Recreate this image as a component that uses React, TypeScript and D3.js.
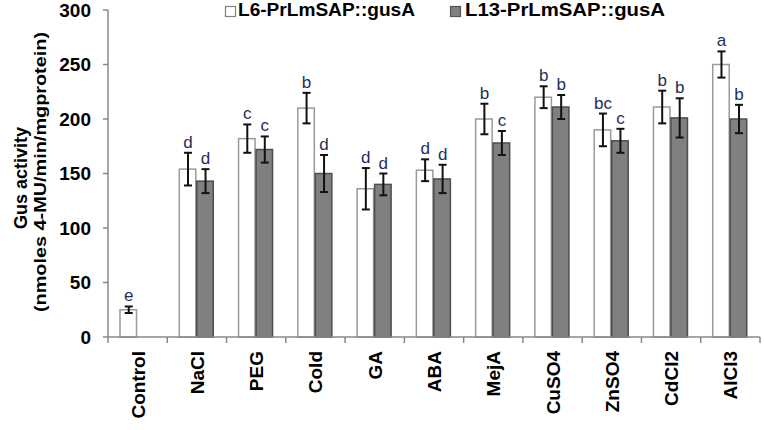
import React from 'react';
import { scaleBand, scaleLinear } from 'd3';

const categories = ['Control', 'NaCl', 'PEG', 'Cold', 'GA', 'ABA', 'MejA', 'CuSO4', 'ZnSO4', 'CdCl2', 'AlCl3'];
const seriesNames = ['L6-PrLmSAP::gusA', 'L13-PrLmSAP::gusA'];
const l6Values = [25, 154, 182, 210, 136, 153, 200, 220, 190, 211, 250];
const l6Errors = [3, 15, 13, 14, 19, 10, 14, 10, 15, 15, 12];
const l6Letters = ['e', 'd', 'c', 'b', 'd', 'd', 'b', 'b', 'bc', 'b', 'a'];
const l13Values = [null, 143, 172, 150, 140, 145, 178, 211, 180, 201, 200];
const l13Errors = [null, 11, 12, 17, 10, 13, 11, 11, 11, 18, 13];
const l13Letters = ['', 'd', 'c', 'd', 'd', 'd', 'c', 'b', 'c', 'b', 'b'];
const yTicks = [0, 50, 100, 150, 200, 250, 300];

const fillColors = ['#ffffff', '#808080'];
const strokeColors = ['#9a9a9a', '#4d4d4d'];
const font = 'Liberation Sans, Arial, sans-serif';

function App() {
  const left = 108;
  const right = 760;
  const top = 10;
  const bottom = 337;

  const x = scaleBand().domain(categories).range([left, right]).padding(0);
  const inner = scaleBand().domain(seriesNames).range([12, 47]).padding(0);
  const y = scaleLinear().domain([0, 300]).range([bottom, top]);

  const series = [
    { name: seriesNames[0], values: l6Values, errors: l6Errors, letters: l6Letters },
    { name: seriesNames[1], values: l13Values, errors: l13Errors, letters: l13Letters },
  ];

  return (
    <svg
      width={764}
      height={430}
      style={{ position: 'absolute', left: 0, top: 0, background: '#fff' }}
      fontFamily={font}
    >
      {/* legend */}
      <g fontWeight='bold' fontSize={18}>
        <rect x={225.5} y={6.5} width={10} height={10} fill='#fff' stroke='#808080' strokeWidth={1.2} />
        <text x={238} y={16} textLength={177} lengthAdjust='spacingAndGlyphs'>{seriesNames[0]}</text>
        <rect x={450.5} y={6.5} width={10} height={10} fill='#808080' stroke='#555' strokeWidth={1.2} />
        <text x={465} y={16} textLength={200} lengthAdjust='spacingAndGlyphs'>{seriesNames[1]}</text>
      </g>

      {/* y axis */}
      <line x1={left} x2={left} y1={top} y2={bottom} stroke='#888' strokeWidth={1.5} />
      {yTicks.map((t) => (
        <g key={t}>
          <line x1={left - 5} x2={left} y1={y(t)} y2={y(t)} stroke='#888' strokeWidth={1.5} />
          <text x={91} y={y(t)} dy='0.35em' textAnchor='end' fontWeight='bold' fontSize={19}>{t}</text>
        </g>
      ))}
      <g fontWeight='bold'>
        <text transform={`translate(27,178) rotate(-90)`} textAnchor='middle' fontSize={18}>Gus activity</text>
        <text
          transform={`translate(46,172) rotate(-90)`}
          textAnchor='middle'
          fontSize={17}
          textLength={280}
          lengthAdjust='spacingAndGlyphs'
        >
          (nmoles 4-MU/min/mgprotein)
        </text>
      </g>

      {/* bars */}
      {series.map((s, si) => (
        <g key={s.name}>
          {categories.map((c, i) => {
            const v = s.values[i];
            if (v == null) return null;
            const e = s.errors[i] || 0;
            const bx = (x(c) || 0) + (inner(s.name) || 0);
            const bw = inner.bandwidth();
            const cx = bx + bw / 2;
            return (
              <g key={c}>
                <rect
                  x={bx}
                  y={y(v)}
                  width={bw - 1}
                  height={bottom - y(v)}
                  fill={fillColors[si]}
                  stroke={strokeColors[si]}
                  strokeWidth={1.5}
                />
                <line x1={cx} x2={cx} y1={y(v + e)} y2={y(v - e)} stroke='#111' strokeWidth={2} />
                <line x1={cx - 4} x2={cx + 4} y1={y(v + e)} y2={y(v + e)} stroke='#111' strokeWidth={2} />
                <line x1={cx - 4} x2={cx + 4} y1={y(v - e)} y2={y(v - e)} stroke='#111' strokeWidth={2} />
                <text x={cx} y={y(v + e) - 5} textAnchor='middle' fontSize={17} fill='#1f2d5c'>
                  {s.letters[i]}
                </text>
              </g>
            );
          })}
        </g>
      ))}

      {/* x axis */}
      <line x1={left} x2={right} y1={bottom} y2={bottom} stroke='#888' strokeWidth={1.5} />
      {categories.map((c) => (
        <line key={c} x1={x(c)} x2={x(c)} y1={bottom} y2={bottom + 6} stroke='#888' strokeWidth={1.5} />
      ))}
      <line x1={right} x2={right} y1={bottom} y2={bottom + 6} stroke='#888' strokeWidth={1.5} />
      {categories.map((c) => (
        <text
          key={c}
          transform={`translate(${(x(c) || 0) + x.bandwidth() / 2 + 7},351) rotate(-90)`}
          textAnchor='end'
          fontWeight='bold'
          fontSize={19}
        >
          {c}
        </text>
      ))}
    </svg>
  );
}

export default App;
